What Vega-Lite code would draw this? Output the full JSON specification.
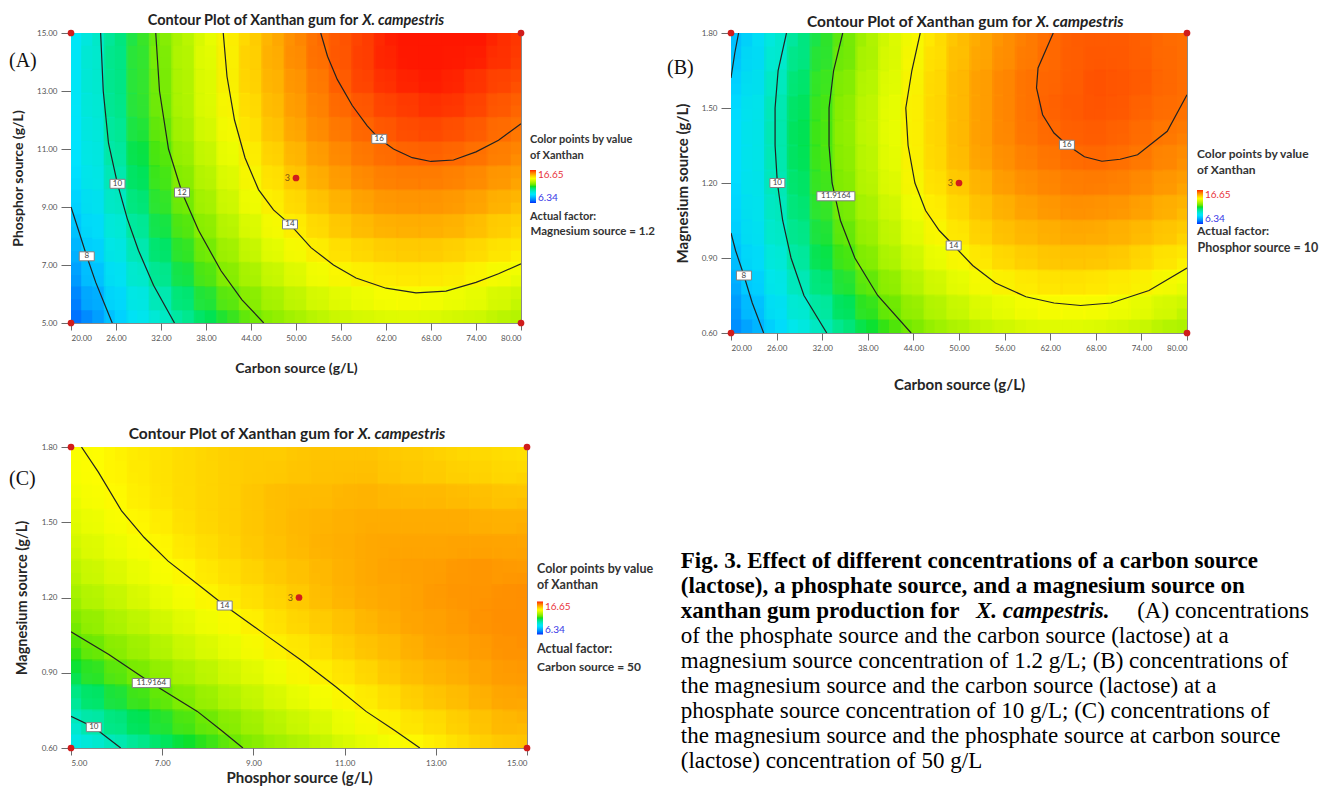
{
"$schema":"https://vega.github.io/schema/vega-lite/v6.json",
"background":"white",
"padding":{"left":8,"top":12,"right":2,"bottom":2},
"columns":2,
"align":"each",
"bounds":"flush",
"spacing":{"row":114,"column":204},
"resolve":{"scale":{"x":"independent","y":"independent","color":"independent","shape":"independent"},"legend":{"color":"independent","shape":"independent"},"axis":{"x":"independent","y":"independent"}},
"config":{
"view":{"stroke":"#8a8a8a","strokeWidth":1},
"axis":{"domain":false,"grid":false,"labelFont":"Lato","labelFontSize":8,"labelColor":"#555","tickColor":"#6a6a6a","tickWidth":1,"titleFont":"Lato","titleFontSize":14,"titleFontWeight":"bold","titleColor":"#262626"},
"axisX":{"tickSize":7,"labelPadding":4},
"axisY":{"tickSize":10,"labelPadding":4},
"legend":{"titleFont":"Lato","titleFontSize":11,"titleFontWeight":"bold","titleColor":"#333","titleLineHeight":16,"labelFont":"Lato","labelFontSize":10,"gradientLength":33,"gradientThickness":6,"titlePadding":9}
},
"datasets":{
"heatA":[
{"x":21.5,"y":5.42,"v":7.1},{"x":24.5,"y":5.42,"v":8.0},{"x":27.5,"y":5.42,"v":8.8},{"x":30.5,"y":5.42,"v":9.5},{"x":33.5,"y":5.42,"v":10.2},{"x":36.5,"y":5.42,"v":10.8},{"x":39.5,"y":5.42,"v":11.3},{"x":42.5,"y":5.42,"v":11.8},{"x":45.5,"y":5.42,"v":12.3},{"x":48.5,"y":5.42,"v":12.6},{"x":51.5,"y":5.42,"v":12.9},{"x":54.5,"y":5.42,"v":13.2},{"x":57.5,"y":5.42,"v":13.4},{"x":60.5,"y":5.42,"v":13.5},{"x":63.5,"y":5.42,"v":13.6},{"x":66.5,"y":5.42,"v":13.6},{"x":69.5,"y":5.42,"v":13.5},{"x":72.5,"y":5.42,"v":13.4},{"x":75.5,"y":5.42,"v":13.3},{"x":78.5,"y":5.42,"v":13.0},
{"x":21.5,"y":6.25,"v":7.5},{"x":24.5,"y":6.25,"v":8.4},{"x":27.5,"y":6.25,"v":9.2},{"x":30.5,"y":6.25,"v":9.9},{"x":33.5,"y":6.25,"v":10.6},{"x":36.5,"y":6.25,"v":11.2},{"x":39.5,"y":6.25,"v":11.8},{"x":42.5,"y":6.25,"v":12.3},{"x":45.5,"y":6.25,"v":12.7},{"x":48.5,"y":6.25,"v":13.1},{"x":51.5,"y":6.25,"v":13.4},{"x":54.5,"y":6.25,"v":13.7},{"x":57.5,"y":6.25,"v":13.8},{"x":60.5,"y":6.25,"v":14.0},{"x":63.5,"y":6.25,"v":14.1},{"x":66.5,"y":6.25,"v":14.1},{"x":69.5,"y":6.25,"v":14.0},{"x":72.5,"y":6.25,"v":13.9},{"x":75.5,"y":6.25,"v":13.8},{"x":78.5,"y":6.25,"v":13.5},
{"x":21.5,"y":7.08,"v":7.9},{"x":24.5,"y":7.08,"v":8.7},{"x":27.5,"y":7.08,"v":9.5},{"x":30.5,"y":7.08,"v":10.3},{"x":33.5,"y":7.08,"v":11.0},{"x":36.5,"y":7.08,"v":11.6},{"x":39.5,"y":7.08,"v":12.2},{"x":42.5,"y":7.08,"v":12.7},{"x":45.5,"y":7.08,"v":13.1},{"x":48.5,"y":7.08,"v":13.5},{"x":51.5,"y":7.08,"v":13.8},{"x":54.5,"y":7.08,"v":14.1},{"x":57.5,"y":7.08,"v":14.3},{"x":60.5,"y":7.08,"v":14.4},{"x":63.5,"y":7.08,"v":14.5},{"x":66.5,"y":7.08,"v":14.5},{"x":69.5,"y":7.08,"v":14.5},{"x":72.5,"y":7.08,"v":14.4},{"x":75.5,"y":7.08,"v":14.2},{"x":78.5,"y":7.08,"v":14.0},
{"x":21.5,"y":7.92,"v":8.2},{"x":24.5,"y":7.92,"v":9.1},{"x":27.5,"y":7.92,"v":9.9},{"x":30.5,"y":7.92,"v":10.6},{"x":33.5,"y":7.92,"v":11.3},{"x":36.5,"y":7.92,"v":11.9},{"x":39.5,"y":7.92,"v":12.5},{"x":42.5,"y":7.92,"v":13.0},{"x":45.5,"y":7.92,"v":13.5},{"x":48.5,"y":7.92,"v":13.9},{"x":51.5,"y":7.92,"v":14.2},{"x":54.5,"y":7.92,"v":14.5},{"x":57.5,"y":7.92,"v":14.7},{"x":60.5,"y":7.92,"v":14.8},{"x":63.5,"y":7.92,"v":14.9},{"x":66.5,"y":7.92,"v":14.9},{"x":69.5,"y":7.92,"v":14.9},{"x":72.5,"y":7.92,"v":14.8},{"x":75.5,"y":7.92,"v":14.7},{"x":78.5,"y":7.92,"v":14.5},
{"x":21.5,"y":8.75,"v":8.5},{"x":24.5,"y":8.75,"v":9.3},{"x":27.5,"y":8.75,"v":10.1},{"x":30.5,"y":8.75,"v":10.9},{"x":33.5,"y":8.75,"v":11.6},{"x":36.5,"y":8.75,"v":12.2},{"x":39.5,"y":8.75,"v":12.8},{"x":42.5,"y":8.75,"v":13.3},{"x":45.5,"y":8.75,"v":13.8},{"x":48.5,"y":8.75,"v":14.2},{"x":51.5,"y":8.75,"v":14.5},{"x":54.5,"y":8.75,"v":14.8},{"x":57.5,"y":8.75,"v":15.0},{"x":60.5,"y":8.75,"v":15.2},{"x":63.5,"y":8.75,"v":15.3},{"x":66.5,"y":8.75,"v":15.3},{"x":69.5,"y":8.75,"v":15.3},{"x":72.5,"y":8.75,"v":15.2},{"x":75.5,"y":8.75,"v":15.0},{"x":78.5,"y":8.75,"v":14.8},
{"x":21.5,"y":9.58,"v":8.7},{"x":24.5,"y":9.58,"v":9.6},{"x":27.5,"y":9.58,"v":10.4},{"x":30.5,"y":9.58,"v":11.2},{"x":33.5,"y":9.58,"v":11.9},{"x":36.5,"y":9.58,"v":12.5},{"x":39.5,"y":9.58,"v":13.1},{"x":42.5,"y":9.58,"v":13.6},{"x":45.5,"y":9.58,"v":14.1},{"x":48.5,"y":9.58,"v":14.5},{"x":51.5,"y":9.58,"v":14.8},{"x":54.5,"y":9.58,"v":15.1},{"x":57.5,"y":9.58,"v":15.3},{"x":60.5,"y":9.58,"v":15.5},{"x":63.5,"y":9.58,"v":15.6},{"x":66.5,"y":9.58,"v":15.6},{"x":69.5,"y":9.58,"v":15.6},{"x":72.5,"y":9.58,"v":15.5},{"x":75.5,"y":9.58,"v":15.4},{"x":78.5,"y":9.58,"v":15.2},
{"x":21.5,"y":10.42,"v":8.9},{"x":24.5,"y":10.42,"v":9.8},{"x":27.5,"y":10.42,"v":10.6},{"x":30.5,"y":10.42,"v":11.4},{"x":33.5,"y":10.42,"v":12.1},{"x":36.5,"y":10.42,"v":12.7},{"x":39.5,"y":10.42,"v":13.3},{"x":42.5,"y":10.42,"v":13.8},{"x":45.5,"y":10.42,"v":14.3},{"x":48.5,"y":10.42,"v":14.7},{"x":51.5,"y":10.42,"v":15.1},{"x":54.5,"y":10.42,"v":15.4},{"x":57.5,"y":10.42,"v":15.6},{"x":60.5,"y":10.42,"v":15.8},{"x":63.5,"y":10.42,"v":15.9},{"x":66.5,"y":10.42,"v":15.9},{"x":69.5,"y":10.42,"v":15.9},{"x":72.5,"y":10.42,"v":15.8},{"x":75.5,"y":10.42,"v":15.7},{"x":78.5,"y":10.42,"v":15.5},
{"x":21.5,"y":11.25,"v":9.0},{"x":24.5,"y":11.25,"v":9.9},{"x":27.5,"y":11.25,"v":10.8},{"x":30.5,"y":11.25,"v":11.5},{"x":33.5,"y":11.25,"v":12.3},{"x":36.5,"y":11.25,"v":12.9},{"x":39.5,"y":11.25,"v":13.5},{"x":42.5,"y":11.25,"v":14.0},{"x":45.5,"y":11.25,"v":14.5},{"x":48.5,"y":11.25,"v":14.9},{"x":51.5,"y":11.25,"v":15.3},{"x":54.5,"y":11.25,"v":15.6},{"x":57.5,"y":11.25,"v":15.8},{"x":60.5,"y":11.25,"v":16.0},{"x":63.5,"y":11.25,"v":16.1},{"x":66.5,"y":11.25,"v":16.2},{"x":69.5,"y":11.25,"v":16.2},{"x":72.5,"y":11.25,"v":16.1},{"x":75.5,"y":11.25,"v":16.0},{"x":78.5,"y":11.25,"v":15.8},
{"x":21.5,"y":12.08,"v":9.1},{"x":24.5,"y":12.08,"v":10.0},{"x":27.5,"y":12.08,"v":10.9},{"x":30.5,"y":12.08,"v":11.7},{"x":33.5,"y":12.08,"v":12.4},{"x":36.5,"y":12.08,"v":13.1},{"x":39.5,"y":12.08,"v":13.7},{"x":42.5,"y":12.08,"v":14.2},{"x":45.5,"y":12.08,"v":14.7},{"x":48.5,"y":12.08,"v":15.1},{"x":51.5,"y":12.08,"v":15.5},{"x":54.5,"y":12.08,"v":15.8},{"x":57.5,"y":12.08,"v":16.0},{"x":60.5,"y":12.08,"v":16.2},{"x":63.5,"y":12.08,"v":16.3},{"x":66.5,"y":12.08,"v":16.4},{"x":69.5,"y":12.08,"v":16.4},{"x":72.5,"y":12.08,"v":16.3},{"x":75.5,"y":12.08,"v":16.2},{"x":78.5,"y":12.08,"v":16.0},
{"x":21.5,"y":12.92,"v":9.2},{"x":24.5,"y":12.92,"v":10.1},{"x":27.5,"y":12.92,"v":11.0},{"x":30.5,"y":12.92,"v":11.8},{"x":33.5,"y":12.92,"v":12.5},{"x":36.5,"y":12.92,"v":13.2},{"x":39.5,"y":12.92,"v":13.8},{"x":42.5,"y":12.92,"v":14.3},{"x":45.5,"y":12.92,"v":14.8},{"x":48.5,"y":12.92,"v":15.2},{"x":51.5,"y":12.92,"v":15.6},{"x":54.5,"y":12.92,"v":15.9},{"x":57.5,"y":12.92,"v":16.2},{"x":60.5,"y":12.92,"v":16.3},{"x":63.5,"y":12.92,"v":16.5},{"x":66.5,"y":12.92,"v":16.5},{"x":69.5,"y":12.92,"v":16.6},{"x":72.5,"y":12.92,"v":16.5},{"x":75.5,"y":12.92,"v":16.4},{"x":78.5,"y":12.92,"v":16.2},
{"x":21.5,"y":13.75,"v":9.2},{"x":24.5,"y":13.75,"v":10.2},{"x":27.5,"y":13.75,"v":11.0},{"x":30.5,"y":13.75,"v":11.8},{"x":33.5,"y":13.75,"v":12.5},{"x":36.5,"y":13.75,"v":13.2},{"x":39.5,"y":13.75,"v":13.8},{"x":42.5,"y":13.75,"v":14.4},{"x":45.5,"y":13.75,"v":14.9},{"x":48.5,"y":13.75,"v":15.3},{"x":51.5,"y":13.75,"v":15.7},{"x":54.5,"y":13.75,"v":16.0},{"x":57.5,"y":13.75,"v":16.3},{"x":60.5,"y":13.75,"v":16.5},{"x":63.5,"y":13.75,"v":16.6},{"x":66.5,"y":13.75,"v":16.7},{"x":69.5,"y":13.75,"v":16.7},{"x":72.5,"y":13.75,"v":16.6},{"x":75.5,"y":13.75,"v":16.5},{"x":78.5,"y":13.75,"v":16.4},
{"x":21.5,"y":14.58,"v":9.2},{"x":24.5,"y":14.58,"v":10.2},{"x":27.5,"y":14.58,"v":11.0},{"x":30.5,"y":14.58,"v":11.8},{"x":33.5,"y":14.58,"v":12.6},{"x":36.5,"y":14.58,"v":13.2},{"x":39.5,"y":14.58,"v":13.9},{"x":42.5,"y":14.58,"v":14.4},{"x":45.5,"y":14.58,"v":14.9},{"x":48.5,"y":14.58,"v":15.4},{"x":51.5,"y":14.58,"v":15.8},{"x":54.5,"y":14.58,"v":16.1},{"x":57.5,"y":14.58,"v":16.3},{"x":60.5,"y":14.58,"v":16.5},{"x":63.5,"y":14.58,"v":16.7},{"x":66.5,"y":14.58,"v":16.8},{"x":69.5,"y":14.58,"v":16.8},{"x":72.5,"y":14.58,"v":16.7},{"x":75.5,"y":14.58,"v":16.7},{"x":78.5,"y":14.58,"v":16.5}
],
"heatB":[
{"x":21.5,"y":0.65,"v":7.5},{"x":24.5,"y":0.65,"v":8.3},{"x":27.5,"y":0.65,"v":9.1},{"x":30.5,"y":0.65,"v":9.8},{"x":33.5,"y":0.65,"v":10.4},{"x":36.5,"y":0.65,"v":11.0},{"x":39.5,"y":0.65,"v":11.5},{"x":42.5,"y":0.65,"v":12.0},{"x":45.5,"y":0.65,"v":12.4},{"x":48.5,"y":0.65,"v":12.8},{"x":51.5,"y":0.65,"v":13.0},{"x":54.5,"y":0.65,"v":13.3},{"x":57.5,"y":0.65,"v":13.4},{"x":60.5,"y":0.65,"v":13.6},{"x":63.5,"y":0.65,"v":13.6},{"x":66.5,"y":0.65,"v":13.6},{"x":69.5,"y":0.65,"v":13.5},{"x":72.5,"y":0.65,"v":13.4},{"x":75.5,"y":0.65,"v":13.2},{"x":78.5,"y":0.65,"v":12.9},
{"x":21.5,"y":0.75,"v":7.8},{"x":24.5,"y":0.75,"v":8.7},{"x":27.5,"y":0.75,"v":9.5},{"x":30.5,"y":0.75,"v":10.2},{"x":33.5,"y":0.75,"v":10.8},{"x":36.5,"y":0.75,"v":11.4},{"x":39.5,"y":0.75,"v":12.0},{"x":42.5,"y":0.75,"v":12.4},{"x":45.5,"y":0.75,"v":12.9},{"x":48.5,"y":0.75,"v":13.2},{"x":51.5,"y":0.75,"v":13.5},{"x":54.5,"y":0.75,"v":13.8},{"x":57.5,"y":0.75,"v":13.9},{"x":60.5,"y":0.75,"v":14.1},{"x":63.5,"y":0.75,"v":14.1},{"x":66.5,"y":0.75,"v":14.1},{"x":69.5,"y":0.75,"v":14.1},{"x":72.5,"y":0.75,"v":13.9},{"x":75.5,"y":0.75,"v":13.8},{"x":78.5,"y":0.75,"v":13.5},
{"x":21.5,"y":0.85,"v":8.1},{"x":24.5,"y":0.85,"v":9.0},{"x":27.5,"y":0.85,"v":9.8},{"x":30.5,"y":0.85,"v":10.5},{"x":33.5,"y":0.85,"v":11.2},{"x":36.5,"y":0.85,"v":11.8},{"x":39.5,"y":0.85,"v":12.3},{"x":42.5,"y":0.85,"v":12.8},{"x":45.5,"y":0.85,"v":13.3},{"x":48.5,"y":0.85,"v":13.6},{"x":51.5,"y":0.85,"v":13.9},{"x":54.5,"y":0.85,"v":14.2},{"x":57.5,"y":0.85,"v":14.4},{"x":60.5,"y":0.85,"v":14.5},{"x":63.5,"y":0.85,"v":14.6},{"x":66.5,"y":0.85,"v":14.6},{"x":69.5,"y":0.85,"v":14.5},{"x":72.5,"y":0.85,"v":14.4},{"x":75.5,"y":0.85,"v":14.3},{"x":78.5,"y":0.85,"v":14.0},
{"x":21.5,"y":0.95,"v":8.4},{"x":24.5,"y":0.95,"v":9.3},{"x":27.5,"y":0.95,"v":10.1},{"x":30.5,"y":0.95,"v":10.8},{"x":33.5,"y":0.95,"v":11.5},{"x":36.5,"y":0.95,"v":12.1},{"x":39.5,"y":0.95,"v":12.7},{"x":42.5,"y":0.95,"v":13.2},{"x":45.5,"y":0.95,"v":13.6},{"x":48.5,"y":0.95,"v":14.0},{"x":51.5,"y":0.95,"v":14.3},{"x":54.5,"y":0.95,"v":14.6},{"x":57.5,"y":0.95,"v":14.8},{"x":60.5,"y":0.95,"v":14.9},{"x":63.5,"y":0.95,"v":15.0},{"x":66.5,"y":0.95,"v":15.0},{"x":69.5,"y":0.95,"v":15.0},{"x":72.5,"y":0.95,"v":14.9},{"x":75.5,"y":0.95,"v":14.7},{"x":78.5,"y":0.95,"v":14.5},
{"x":21.5,"y":1.05,"v":8.6},{"x":24.5,"y":1.05,"v":9.5},{"x":27.5,"y":1.05,"v":10.3},{"x":30.5,"y":1.05,"v":11.0},{"x":33.5,"y":1.05,"v":11.7},{"x":36.5,"y":1.05,"v":12.4},{"x":39.5,"y":1.05,"v":12.9},{"x":42.5,"y":1.05,"v":13.4},{"x":45.5,"y":1.05,"v":13.9},{"x":48.5,"y":1.05,"v":14.3},{"x":51.5,"y":1.05,"v":14.6},{"x":54.5,"y":1.05,"v":14.9},{"x":57.5,"y":1.05,"v":15.1},{"x":60.5,"y":1.05,"v":15.2},{"x":63.5,"y":1.05,"v":15.3},{"x":66.5,"y":1.05,"v":15.4},{"x":69.5,"y":1.05,"v":15.3},{"x":72.5,"y":1.05,"v":15.2},{"x":75.5,"y":1.05,"v":15.1},{"x":78.5,"y":1.05,"v":14.9},
{"x":21.5,"y":1.15,"v":8.7},{"x":24.5,"y":1.15,"v":9.6},{"x":27.5,"y":1.15,"v":10.4},{"x":30.5,"y":1.15,"v":11.2},{"x":33.5,"y":1.15,"v":11.9},{"x":36.5,"y":1.15,"v":12.5},{"x":39.5,"y":1.15,"v":13.1},{"x":42.5,"y":1.15,"v":13.6},{"x":45.5,"y":1.15,"v":14.1},{"x":48.5,"y":1.15,"v":14.5},{"x":51.5,"y":1.15,"v":14.8},{"x":54.5,"y":1.15,"v":15.1},{"x":57.5,"y":1.15,"v":15.3},{"x":60.5,"y":1.15,"v":15.5},{"x":63.5,"y":1.15,"v":15.6},{"x":66.5,"y":1.15,"v":15.7},{"x":69.5,"y":1.15,"v":15.6},{"x":72.5,"y":1.15,"v":15.6},{"x":75.5,"y":1.15,"v":15.4},{"x":78.5,"y":1.15,"v":15.2},
{"x":21.5,"y":1.25,"v":8.8},{"x":24.5,"y":1.25,"v":9.7},{"x":27.5,"y":1.25,"v":10.5},{"x":30.5,"y":1.25,"v":11.3},{"x":33.5,"y":1.25,"v":12.0},{"x":36.5,"y":1.25,"v":12.7},{"x":39.5,"y":1.25,"v":13.3},{"x":42.5,"y":1.25,"v":13.8},{"x":45.5,"y":1.25,"v":14.3},{"x":48.5,"y":1.25,"v":14.7},{"x":51.5,"y":1.25,"v":15.0},{"x":54.5,"y":1.25,"v":15.3},{"x":57.5,"y":1.25,"v":15.6},{"x":60.5,"y":1.25,"v":15.7},{"x":63.5,"y":1.25,"v":15.8},{"x":66.5,"y":1.25,"v":15.9},{"x":69.5,"y":1.25,"v":15.9},{"x":72.5,"y":1.25,"v":15.8},{"x":75.5,"y":1.25,"v":15.7},{"x":78.5,"y":1.25,"v":15.5},
{"x":21.5,"y":1.35,"v":8.8},{"x":24.5,"y":1.35,"v":9.7},{"x":27.5,"y":1.35,"v":10.6},{"x":30.5,"y":1.35,"v":11.4},{"x":33.5,"y":1.35,"v":12.1},{"x":36.5,"y":1.35,"v":12.7},{"x":39.5,"y":1.35,"v":13.3},{"x":42.5,"y":1.35,"v":13.9},{"x":45.5,"y":1.35,"v":14.4},{"x":48.5,"y":1.35,"v":14.8},{"x":51.5,"y":1.35,"v":15.2},{"x":54.5,"y":1.35,"v":15.5},{"x":57.5,"y":1.35,"v":15.7},{"x":60.5,"y":1.35,"v":15.9},{"x":63.5,"y":1.35,"v":16.0},{"x":66.5,"y":1.35,"v":16.1},{"x":69.5,"y":1.35,"v":16.1},{"x":72.5,"y":1.35,"v":16.0},{"x":75.5,"y":1.35,"v":15.9},{"x":78.5,"y":1.35,"v":15.7},
{"x":21.5,"y":1.45,"v":8.8},{"x":24.5,"y":1.45,"v":9.7},{"x":27.5,"y":1.45,"v":10.6},{"x":30.5,"y":1.45,"v":11.4},{"x":33.5,"y":1.45,"v":12.1},{"x":36.5,"y":1.45,"v":12.8},{"x":39.5,"y":1.45,"v":13.4},{"x":42.5,"y":1.45,"v":13.9},{"x":45.5,"y":1.45,"v":14.4},{"x":48.5,"y":1.45,"v":14.8},{"x":51.5,"y":1.45,"v":15.2},{"x":54.5,"y":1.45,"v":15.5},{"x":57.5,"y":1.45,"v":15.8},{"x":60.5,"y":1.45,"v":16.0},{"x":63.5,"y":1.45,"v":16.1},{"x":66.5,"y":1.45,"v":16.2},{"x":69.5,"y":1.45,"v":16.2},{"x":72.5,"y":1.45,"v":16.1},{"x":75.5,"y":1.45,"v":16.0},{"x":78.5,"y":1.45,"v":15.9},
{"x":21.5,"y":1.55,"v":8.7},{"x":24.5,"y":1.55,"v":9.6},{"x":27.5,"y":1.55,"v":10.5},{"x":30.5,"y":1.55,"v":11.3},{"x":33.5,"y":1.55,"v":12.0},{"x":36.5,"y":1.55,"v":12.7},{"x":39.5,"y":1.55,"v":13.3},{"x":42.5,"y":1.55,"v":13.9},{"x":45.5,"y":1.55,"v":14.4},{"x":48.5,"y":1.55,"v":14.8},{"x":51.5,"y":1.55,"v":15.2},{"x":54.5,"y":1.55,"v":15.5},{"x":57.5,"y":1.55,"v":15.8},{"x":60.5,"y":1.55,"v":16.0},{"x":63.5,"y":1.55,"v":16.2},{"x":66.5,"y":1.55,"v":16.2},{"x":69.5,"y":1.55,"v":16.3},{"x":72.5,"y":1.55,"v":16.2},{"x":75.5,"y":1.55,"v":16.1},{"x":78.5,"y":1.55,"v":16.0},
{"x":21.5,"y":1.65,"v":8.5},{"x":24.5,"y":1.65,"v":9.5},{"x":27.5,"y":1.65,"v":10.3},{"x":30.5,"y":1.65,"v":11.2},{"x":33.5,"y":1.65,"v":11.9},{"x":36.5,"y":1.65,"v":12.6},{"x":39.5,"y":1.65,"v":13.2},{"x":42.5,"y":1.65,"v":13.8},{"x":45.5,"y":1.65,"v":14.3},{"x":48.5,"y":1.65,"v":14.8},{"x":51.5,"y":1.65,"v":15.2},{"x":54.5,"y":1.65,"v":15.5},{"x":57.5,"y":1.65,"v":15.8},{"x":60.5,"y":1.65,"v":16.0},{"x":63.5,"y":1.65,"v":16.1},{"x":66.5,"y":1.65,"v":16.2},{"x":69.5,"y":1.65,"v":16.3},{"x":72.5,"y":1.65,"v":16.2},{"x":75.5,"y":1.65,"v":16.2},{"x":78.5,"y":1.65,"v":16.0},
{"x":21.5,"y":1.75,"v":8.3},{"x":24.5,"y":1.75,"v":9.3},{"x":27.5,"y":1.75,"v":10.1},{"x":30.5,"y":1.75,"v":11.0},{"x":33.5,"y":1.75,"v":11.7},{"x":36.5,"y":1.75,"v":12.4},{"x":39.5,"y":1.75,"v":13.1},{"x":42.5,"y":1.75,"v":13.7},{"x":45.5,"y":1.75,"v":14.2},{"x":48.5,"y":1.75,"v":14.7},{"x":51.5,"y":1.75,"v":15.1},{"x":54.5,"y":1.75,"v":15.4},{"x":57.5,"y":1.75,"v":15.7},{"x":60.5,"y":1.75,"v":15.9},{"x":63.5,"y":1.75,"v":16.1},{"x":66.5,"y":1.75,"v":16.2},{"x":69.5,"y":1.75,"v":16.2},{"x":72.5,"y":1.75,"v":16.2},{"x":75.5,"y":1.75,"v":16.1},{"x":78.5,"y":1.75,"v":16.0}
],
"heatC":[
{"x":5.25,"y":0.65,"v":9.6},{"x":5.75,"y":0.65,"v":10.0},{"x":6.25,"y":0.65,"v":10.4},{"x":6.75,"y":0.65,"v":10.8},{"x":7.25,"y":0.65,"v":11.2},{"x":7.75,"y":0.65,"v":11.5},{"x":8.25,"y":0.65,"v":11.8},{"x":8.75,"y":0.65,"v":12.2},{"x":9.25,"y":0.65,"v":12.5},{"x":9.75,"y":0.65,"v":12.8},{"x":10.25,"y":0.65,"v":13.0},{"x":10.75,"y":0.65,"v":13.3},{"x":11.25,"y":0.65,"v":13.6},{"x":11.75,"y":0.65,"v":13.8},{"x":12.25,"y":0.65,"v":14.0},{"x":12.75,"y":0.65,"v":14.2},{"x":13.25,"y":0.65,"v":14.4},{"x":13.75,"y":0.65,"v":14.6},{"x":14.25,"y":0.65,"v":14.8},{"x":14.75,"y":0.65,"v":14.9},
{"x":5.25,"y":0.75,"v":10.3},{"x":5.75,"y":0.75,"v":10.7},{"x":6.25,"y":0.75,"v":11.1},{"x":6.75,"y":0.75,"v":11.4},{"x":7.25,"y":0.75,"v":11.8},{"x":7.75,"y":0.75,"v":12.1},{"x":8.25,"y":0.75,"v":12.4},{"x":8.75,"y":0.75,"v":12.7},{"x":9.25,"y":0.75,"v":13.0},{"x":9.75,"y":0.75,"v":13.3},{"x":10.25,"y":0.75,"v":13.5},{"x":10.75,"y":0.75,"v":13.7},{"x":11.25,"y":0.75,"v":14.0},{"x":11.75,"y":0.75,"v":14.2},{"x":12.25,"y":0.75,"v":14.4},{"x":12.75,"y":0.75,"v":14.6},{"x":13.25,"y":0.75,"v":14.7},{"x":13.75,"y":0.75,"v":14.9},{"x":14.25,"y":0.75,"v":15.0},{"x":14.75,"y":0.75,"v":15.2},
{"x":5.25,"y":0.85,"v":10.9},{"x":5.75,"y":0.85,"v":11.3},{"x":6.25,"y":0.85,"v":11.7},{"x":6.75,"y":0.85,"v":12.0},{"x":7.25,"y":0.85,"v":12.3},{"x":7.75,"y":0.85,"v":12.6},{"x":8.25,"y":0.85,"v":12.9},{"x":8.75,"y":0.85,"v":13.2},{"x":9.25,"y":0.85,"v":13.4},{"x":9.75,"y":0.85,"v":13.7},{"x":10.25,"y":0.85,"v":13.9},{"x":10.75,"y":0.85,"v":14.1},{"x":11.25,"y":0.85,"v":14.3},{"x":11.75,"y":0.85,"v":14.5},{"x":12.25,"y":0.85,"v":14.7},{"x":12.75,"y":0.85,"v":14.9},{"x":13.25,"y":0.85,"v":15.0},{"x":13.75,"y":0.85,"v":15.1},{"x":14.25,"y":0.85,"v":15.3},{"x":14.75,"y":0.85,"v":15.4},
{"x":5.25,"y":0.95,"v":11.5},{"x":5.75,"y":0.95,"v":11.9},{"x":6.25,"y":0.95,"v":12.2},{"x":6.75,"y":0.95,"v":12.5},{"x":7.25,"y":0.95,"v":12.8},{"x":7.75,"y":0.95,"v":13.1},{"x":8.25,"y":0.95,"v":13.3},{"x":8.75,"y":0.95,"v":13.6},{"x":9.25,"y":0.95,"v":13.8},{"x":9.75,"y":0.95,"v":14.0},{"x":10.25,"y":0.95,"v":14.3},{"x":10.75,"y":0.95,"v":14.4},{"x":11.25,"y":0.95,"v":14.6},{"x":11.75,"y":0.95,"v":14.8},{"x":12.25,"y":0.95,"v":15.0},{"x":12.75,"y":0.95,"v":15.1},{"x":13.25,"y":0.95,"v":15.2},{"x":13.75,"y":0.95,"v":15.3},{"x":14.25,"y":0.95,"v":15.4},{"x":14.75,"y":0.95,"v":15.5},
{"x":5.25,"y":1.05,"v":12.0},{"x":5.75,"y":1.05,"v":12.4},{"x":6.25,"y":1.05,"v":12.7},{"x":6.75,"y":1.05,"v":12.9},{"x":7.25,"y":1.05,"v":13.2},{"x":7.75,"y":1.05,"v":13.5},{"x":8.25,"y":1.05,"v":13.7},{"x":8.75,"y":1.05,"v":13.9},{"x":9.25,"y":1.05,"v":14.2},{"x":9.75,"y":1.05,"v":14.4},{"x":10.25,"y":1.05,"v":14.5},{"x":10.75,"y":1.05,"v":14.7},{"x":11.25,"y":1.05,"v":14.9},{"x":11.75,"y":1.05,"v":15.0},{"x":12.25,"y":1.05,"v":15.1},{"x":12.75,"y":1.05,"v":15.3},{"x":13.25,"y":1.05,"v":15.4},{"x":13.75,"y":1.05,"v":15.4},{"x":14.25,"y":1.05,"v":15.5},{"x":14.75,"y":1.05,"v":15.6},
{"x":5.25,"y":1.15,"v":12.5},{"x":5.75,"y":1.15,"v":12.8},{"x":6.25,"y":1.15,"v":13.1},{"x":6.75,"y":1.15,"v":13.3},{"x":7.25,"y":1.15,"v":13.6},{"x":7.75,"y":1.15,"v":13.8},{"x":8.25,"y":1.15,"v":14.0},{"x":8.75,"y":1.15,"v":14.2},{"x":9.25,"y":1.15,"v":14.4},{"x":9.75,"y":1.15,"v":14.6},{"x":10.25,"y":1.15,"v":14.8},{"x":10.75,"y":1.15,"v":14.9},{"x":11.25,"y":1.15,"v":15.0},{"x":11.75,"y":1.15,"v":15.2},{"x":12.25,"y":1.15,"v":15.3},{"x":12.75,"y":1.15,"v":15.4},{"x":13.25,"y":1.15,"v":15.4},{"x":13.75,"y":1.15,"v":15.5},{"x":14.25,"y":1.15,"v":15.6},{"x":14.75,"y":1.15,"v":15.6},
{"x":5.25,"y":1.25,"v":12.9},{"x":5.75,"y":1.25,"v":13.2},{"x":6.25,"y":1.25,"v":13.4},{"x":6.75,"y":1.25,"v":13.7},{"x":7.25,"y":1.25,"v":13.9},{"x":7.75,"y":1.25,"v":14.1},{"x":8.25,"y":1.25,"v":14.3},{"x":8.75,"y":1.25,"v":14.5},{"x":9.25,"y":1.25,"v":14.6},{"x":9.75,"y":1.25,"v":14.8},{"x":10.25,"y":1.25,"v":14.9},{"x":10.75,"y":1.25,"v":15.1},{"x":11.25,"y":1.25,"v":15.2},{"x":11.75,"y":1.25,"v":15.3},{"x":12.25,"y":1.25,"v":15.3},{"x":12.75,"y":1.25,"v":15.4},{"x":13.25,"y":1.25,"v":15.5},{"x":13.75,"y":1.25,"v":15.5},{"x":14.25,"y":1.25,"v":15.5},{"x":14.75,"y":1.25,"v":15.6},
{"x":5.25,"y":1.35,"v":13.2},{"x":5.75,"y":1.35,"v":13.5},{"x":6.25,"y":1.35,"v":13.7},{"x":6.75,"y":1.35,"v":13.9},{"x":7.25,"y":1.35,"v":14.1},{"x":7.75,"y":1.35,"v":14.3},{"x":8.25,"y":1.35,"v":14.5},{"x":8.75,"y":1.35,"v":14.6},{"x":9.25,"y":1.35,"v":14.8},{"x":9.75,"y":1.35,"v":14.9},{"x":10.25,"y":1.35,"v":15.0},{"x":10.75,"y":1.35,"v":15.1},{"x":11.25,"y":1.35,"v":15.2},{"x":11.75,"y":1.35,"v":15.3},{"x":12.25,"y":1.35,"v":15.4},{"x":12.75,"y":1.35,"v":15.4},{"x":13.25,"y":1.35,"v":15.4},{"x":13.75,"y":1.35,"v":15.5},{"x":14.25,"y":1.35,"v":15.5},{"x":14.75,"y":1.35,"v":15.4},
{"x":5.25,"y":1.45,"v":13.5},{"x":5.75,"y":1.45,"v":13.7},{"x":6.25,"y":1.45,"v":13.9},{"x":6.75,"y":1.45,"v":14.1},{"x":7.25,"y":1.45,"v":14.3},{"x":7.75,"y":1.45,"v":14.5},{"x":8.25,"y":1.45,"v":14.6},{"x":8.75,"y":1.45,"v":14.8},{"x":9.25,"y":1.45,"v":14.9},{"x":9.75,"y":1.45,"v":15.0},{"x":10.25,"y":1.45,"v":15.1},{"x":10.75,"y":1.45,"v":15.2},{"x":11.25,"y":1.45,"v":15.2},{"x":11.75,"y":1.45,"v":15.3},{"x":12.25,"y":1.45,"v":15.3},{"x":12.75,"y":1.45,"v":15.3},{"x":13.25,"y":1.45,"v":15.3},{"x":13.75,"y":1.45,"v":15.3},{"x":14.25,"y":1.45,"v":15.3},{"x":14.75,"y":1.45,"v":15.3},
{"x":5.25,"y":1.55,"v":13.7},{"x":5.75,"y":1.55,"v":13.9},{"x":6.25,"y":1.55,"v":14.1},{"x":6.75,"y":1.55,"v":14.3},{"x":7.25,"y":1.55,"v":14.4},{"x":7.75,"y":1.55,"v":14.6},{"x":8.25,"y":1.55,"v":14.7},{"x":8.75,"y":1.55,"v":14.8},{"x":9.25,"y":1.55,"v":14.9},{"x":9.75,"y":1.55,"v":15.0},{"x":10.25,"y":1.55,"v":15.1},{"x":10.75,"y":1.55,"v":15.1},{"x":11.25,"y":1.55,"v":15.2},{"x":11.75,"y":1.55,"v":15.2},{"x":12.25,"y":1.55,"v":15.2},{"x":12.75,"y":1.55,"v":15.2},{"x":13.25,"y":1.55,"v":15.2},{"x":13.75,"y":1.55,"v":15.2},{"x":14.25,"y":1.55,"v":15.1},{"x":14.75,"y":1.55,"v":15.1},
{"x":5.25,"y":1.65,"v":13.9},{"x":5.75,"y":1.65,"v":14.1},{"x":6.25,"y":1.65,"v":14.2},{"x":6.75,"y":1.65,"v":14.4},{"x":7.25,"y":1.65,"v":14.5},{"x":7.75,"y":1.65,"v":14.6},{"x":8.25,"y":1.65,"v":14.7},{"x":8.75,"y":1.65,"v":14.8},{"x":9.25,"y":1.65,"v":14.9},{"x":9.75,"y":1.65,"v":15.0},{"x":10.25,"y":1.65,"v":15.0},{"x":10.75,"y":1.65,"v":15.0},{"x":11.25,"y":1.65,"v":15.1},{"x":11.75,"y":1.65,"v":15.1},{"x":12.25,"y":1.65,"v":15.0},{"x":12.75,"y":1.65,"v":15.0},{"x":13.25,"y":1.65,"v":15.0},{"x":13.75,"y":1.65,"v":14.9},{"x":14.25,"y":1.65,"v":14.9},{"x":14.75,"y":1.65,"v":14.8},
{"x":5.25,"y":1.75,"v":14.0},{"x":5.75,"y":1.75,"v":14.1},{"x":6.25,"y":1.75,"v":14.3},{"x":6.75,"y":1.75,"v":14.4},{"x":7.25,"y":1.75,"v":14.5},{"x":7.75,"y":1.75,"v":14.6},{"x":8.25,"y":1.75,"v":14.7},{"x":8.75,"y":1.75,"v":14.8},{"x":9.25,"y":1.75,"v":14.8},{"x":9.75,"y":1.75,"v":14.8},{"x":10.25,"y":1.75,"v":14.9},{"x":10.75,"y":1.75,"v":14.9},{"x":11.25,"y":1.75,"v":14.9},{"x":11.75,"y":1.75,"v":14.9},{"x":12.25,"y":1.75,"v":14.8},{"x":12.75,"y":1.75,"v":14.8},{"x":13.25,"y":1.75,"v":14.7},{"x":13.75,"y":1.75,"v":14.6},{"x":14.25,"y":1.75,"v":14.6},{"x":14.75,"y":1.75,"v":14.5}
],
"contA":[
{"k":"8","i":0,"x":20,"y":9.0},{"k":"8","i":1,"x":21.0,"y":8.2},{"k":"8","i":2,"x":22.1,"y":7.3},{"k":"8","i":3,"x":23.3,"y":6.4},{"k":"8","i":4,"x":24.4,"y":5.7},{"k":"8","i":5,"x":25.5,"y":5.0},
{"k":"10","i":0,"x":23.95,"y":15},{"k":"10","i":1,"x":24.3,"y":13},{"k":"10","i":2,"x":25.0,"y":11.2},{"k":"10","i":3,"x":26.2,"y":9.8},{"k":"10","i":4,"x":27.5,"y":8.6},{"k":"10","i":5,"x":29.0,"y":7.5},{"k":"10","i":6,"x":31.0,"y":6.3},{"k":"10","i":7,"x":33.8,"y":5.0},
{"k":"12","i":0,"x":31.3,"y":15},{"k":"12","i":1,"x":31.8,"y":13},{"k":"12","i":2,"x":33.0,"y":11},{"k":"12","i":3,"x":34.8,"y":9.5},{"k":"12","i":4,"x":37.0,"y":8.2},{"k":"12","i":5,"x":40.0,"y":6.8},{"k":"12","i":6,"x":42.8,"y":5.8},{"k":"12","i":7,"x":45.7,"y":5.0},
{"k":"14","i":0,"x":40.3,"y":15},{"k":"14","i":1,"x":40.8,"y":13.5},{"k":"14","i":2,"x":41.8,"y":12},{"k":"14","i":3,"x":43.2,"y":10.7},{"k":"14","i":4,"x":45.0,"y":9.6},{"k":"14","i":5,"x":47.0,"y":8.9},{"k":"14","i":6,"x":49.2,"y":8.4},{"k":"14","i":7,"x":52,"y":7.6},{"k":"14","i":8,"x":55,"y":7.0},{"k":"14","i":9,"x":58,"y":6.55},{"k":"14","i":10,"x":62,"y":6.2},{"k":"14","i":11,"x":66,"y":6.04},{"k":"14","i":12,"x":70,"y":6.1},{"k":"14","i":13,"x":74,"y":6.4},{"k":"14","i":14,"x":77,"y":6.7},{"k":"14","i":15,"x":80,"y":7.04},
{"k":"16","i":0,"x":53.3,"y":15},{"k":"16","i":1,"x":54.2,"y":14.2},{"k":"16","i":2,"x":55.5,"y":13.4},{"k":"16","i":3,"x":57.5,"y":12.5},{"k":"16","i":4,"x":59.5,"y":11.8},{"k":"16","i":5,"x":61.1,"y":11.35},{"k":"16","i":6,"x":63,"y":11.0},{"k":"16","i":7,"x":65.5,"y":10.7},{"k":"16","i":8,"x":68,"y":10.57},{"k":"16","i":9,"x":71,"y":10.62},{"k":"16","i":10,"x":74,"y":10.9},{"k":"16","i":11,"x":77,"y":11.3},{"k":"16","i":12,"x":80,"y":11.87}
],
"contB":[
{"k":"8a","i":0,"x":21.0,"y":1.8},{"k":"8a","i":1,"x":20.5,"y":1.72},{"k":"8a","i":2,"x":20,"y":1.62},
{"k":"8b","i":0,"x":20,"y":1.0},{"k":"8b","i":1,"x":20.6,"y":0.93},{"k":"8b","i":2,"x":21.7,"y":0.83},{"k":"8b","i":3,"x":22.8,"y":0.72},{"k":"8b","i":4,"x":24.3,"y":0.6},
{"k":"10","i":0,"x":27.3,"y":1.8},{"k":"10","i":1,"x":26.2,"y":1.65},{"k":"10","i":2,"x":25.8,"y":1.5},{"k":"10","i":3,"x":25.8,"y":1.35},{"k":"10","i":4,"x":26.1,"y":1.2},{"k":"10","i":5,"x":26.8,"y":1.05},{"k":"10","i":6,"x":27.9,"y":0.9},{"k":"10","i":7,"x":29.6,"y":0.75},{"k":"10","i":8,"x":32.6,"y":0.6},
{"k":"11.9164","i":0,"x":34.7,"y":1.8},{"k":"11.9164","i":1,"x":33.5,"y":1.65},{"k":"11.9164","i":2,"x":32.9,"y":1.5},{"k":"11.9164","i":3,"x":32.9,"y":1.35},{"k":"11.9164","i":4,"x":33.3,"y":1.2},{"k":"11.9164","i":5,"x":34.4,"y":1.05},{"k":"11.9164","i":6,"x":36.3,"y":0.9},{"k":"11.9164","i":7,"x":39.3,"y":0.75},{"k":"11.9164","i":8,"x":43.7,"y":0.6},
{"k":"14","i":0,"x":44.9,"y":1.8},{"k":"14","i":1,"x":43.8,"y":1.65},{"k":"14","i":2,"x":43.0,"y":1.5},{"k":"14","i":3,"x":43.3,"y":1.35},{"k":"14","i":4,"x":44.2,"y":1.2},{"k":"14","i":5,"x":45.6,"y":1.09},{"k":"14","i":6,"x":47.4,"y":1.01},{"k":"14","i":7,"x":49.3,"y":0.95},{"k":"14","i":8,"x":51.8,"y":0.87},{"k":"14","i":9,"x":54.8,"y":0.8},{"k":"14","i":10,"x":58.8,"y":0.745},{"k":"14","i":11,"x":62.5,"y":0.72},{"k":"14","i":12,"x":66,"y":0.71},{"k":"14","i":13,"x":70,"y":0.72},{"k":"14","i":14,"x":75,"y":0.77},{"k":"14","i":15,"x":80,"y":0.86},
{"k":"16","i":0,"x":62.4,"y":1.8},{"k":"16","i":1,"x":60.4,"y":1.66},{"k":"16","i":2,"x":60.2,"y":1.58},{"k":"16","i":3,"x":61.0,"y":1.473},{"k":"16","i":4,"x":62.5,"y":1.4},{"k":"16","i":5,"x":64.2,"y":1.353},{"k":"16","i":6,"x":66.5,"y":1.305},{"k":"16","i":7,"x":68.8,"y":1.287},{"k":"16","i":8,"x":71.2,"y":1.295},{"k":"16","i":9,"x":73.5,"y":1.313},{"k":"16","i":10,"x":77.4,"y":1.407},{"k":"16","i":11,"x":80,"y":1.553}
],
"contC":[
{"k":"10","i":0,"x":5,"y":0.726},{"k":"10","i":1,"x":5.5,"y":0.683},{"k":"10","i":2,"x":6.09,"y":0.6},
{"k":"11.9164","i":0,"x":5,"y":1.063},{"k":"11.9164","i":1,"x":5.83,"y":0.973},{"k":"11.9164","i":2,"x":6.76,"y":0.859},{"k":"11.9164","i":3,"x":7.77,"y":0.746},{"k":"11.9164","i":4,"x":8.3,"y":0.67},{"k":"11.9164","i":5,"x":8.77,"y":0.6},
{"k":"14","i":0,"x":5.23,"y":1.8},{"k":"14","i":1,"x":5.6,"y":1.7},{"k":"14","i":2,"x":6.11,"y":1.545},{"k":"14","i":3,"x":6.6,"y":1.44},{"k":"14","i":4,"x":7.13,"y":1.345},{"k":"14","i":5,"x":7.8,"y":1.25},{"k":"14","i":6,"x":8.37,"y":1.168},{"k":"14","i":7,"x":9.2,"y":1.06},{"k":"14","i":8,"x":10.08,"y":0.946},{"k":"14","i":9,"x":10.8,"y":0.845},{"k":"14","i":10,"x":11.47,"y":0.746},{"k":"14","i":11,"x":12.1,"y":0.67},{"k":"14","i":12,"x":12.65,"y":0.6}
],
"labA":[{"label":"8","x":22.1,"y":7.3},{"label":"10","x":26.2,"y":9.8},{"label":"12","x":34.8,"y":9.5},{"label":"14","x":49.2,"y":8.4},{"label":"16","x":61.1,"y":11.35}],
"labB":[{"label":"8","x":21.7,"y":0.83},{"label":"10","x":26.1,"y":1.2},{"label":"11.9164","x":33.8,"y":1.147},{"label":"14","x":49.3,"y":0.95},{"label":"16","x":64.2,"y":1.353}],
"labC":[{"label":"10","x":5.5,"y":0.683},{"label":"11.9164","x":6.76,"y":0.859},{"label":"14","x":8.37,"y":1.168}],
"ptsA":[{"x":20,"y":5,"factor":"Magnesium source = 1.2"},{"x":20,"y":15,"factor":"Magnesium source = 1.2"},{"x":80,"y":5,"factor":"Magnesium source = 1.2"},{"x":80,"y":15,"factor":"Magnesium source = 1.2"},{"x":50,"y":10,"factor":"Magnesium source = 1.2","label":"3"}],
"ptsB":[{"x":20,"y":0.6,"factor":"Phosphor source = 10"},{"x":20,"y":1.8,"factor":"Phosphor source = 10"},{"x":80,"y":0.6,"factor":"Phosphor source = 10"},{"x":80,"y":1.8,"factor":"Phosphor source = 10"},{"x":50,"y":1.2,"factor":"Phosphor source = 10","label":"3"}],
"ptsC":[{"x":5,"y":0.6,"factor":"Carbon source = 50"},{"x":5,"y":1.8,"factor":"Carbon source = 50"},{"x":15,"y":0.6,"factor":"Carbon source = 50"},{"x":15,"y":1.8,"factor":"Carbon source = 50"},{"x":10,"y":1.2,"factor":"Carbon source = 50","label":"3"}],
"capBold":[{"line":1,"text":"Fig. 3. Effect of different concentrations of a carbon source"},{"line":2,"text":"(lactose), a phosphate source, and a magnesium source on"},{"line":3,"text":"xanthan gum production for"}],
"capItal":[{"line":3,"text":"X. campestris."}],
"capRight":[{"line":3,"text":"(A) concentrations"}],
"capReg":[{"line":4,"text":"of the phosphate source and the carbon source (lactose) at a"},{"line":5,"text":"magnesium source concentration of 1.2 g/L; (B) concentrations of"},{"line":6,"text":"the magnesium source and the carbon source (lactose) at a"},{"line":7,"text":"phosphate source concentration of 10 g/L; (C) concentrations of"},{"line":8,"text":"the magnesium source and the phosphate source at carbon source"},{"line":9,"text":"(lactose) concentration of 50 g/L"}]
},
"concat":[
{
"width":450,"height":290,
"layer":[
{"data":{"name":"heatA"},"mark":{"type":"point","shape":"square","filled":true,"size":625,"opacity":1,"strokeWidth":0,"clip":true},
"encoding":{
"x":{"field":"x","type":"quantitative","scale":{"domain":[20,80],"nice":false,"zero":false},"axis":{"values":[20,26,32,38,44,50,56,62,68,74,80],"format":".2f","title":"Carbon source (g/L)","titlePadding":19}},
"y":{"field":"y","type":"quantitative","scale":{"domain":[5,15],"nice":false,"zero":false},"axis":{"values":[5,7,9,11,13,15],"format":".2f","title":"Phosphor source (g/L)","titlePadding":11}},
"color":{"field":"v","type":"quantitative","scale":{"domain":[6.34,8.92,11.5,14.07,16.65],"range":["#0b24f0","#00e4ff","#10e020","#ffff00","#ff1800"],"clamp":true},
"legend":{"title":["Color points by value","of Xanthan"],"orient":"none","legendX":459,"legendY":101,"titleFontSize":11,"values":[6.34,16.65],"labelExpr":"format(datum.value,'.2f')","labelColor":{"expr":"datum.value > 10 ? '#e8333a' : '#3535e6'"}}}
}},
{"data":{"name":"heatA"},"mark":{"type":"point","shape":"square","filled":true,"size":2209,"opacity":0.42,"strokeWidth":0,"clip":true},
"encoding":{"x":{"field":"x","type":"quantitative"},"y":{"field":"y","type":"quantitative"},"color":{"field":"v","type":"quantitative"}}},
{"data":{"name":"contA"},"mark":{"type":"line","color":"#222","strokeWidth":1.2,"clip":true},"encoding":{"x":{"field":"x","type":"quantitative"},"y":{"field":"y","type":"quantitative"},"detail":{"field":"k"},"order":{"field":"i"}}},
{"data":{"name":"labA"},"mark":{"type":"point","shape":"M-1,-0.6H1V0.6H-1Z","size":225,"filled":true,"fill":"white","stroke":"#808080","strokeWidth":1,"opacity":1},"encoding":{"x":{"field":"x","type":"quantitative"},"y":{"field":"y","type":"quantitative"}}},
{"data":{"name":"labA"},"mark":{"type":"text","fontSize":8,"font":"Lato","color":"#444"},"encoding":{"x":{"field":"x","type":"quantitative"},"y":{"field":"y","type":"quantitative"},"text":{"field":"label"}}},
{"data":{"name":"ptsA"},"mark":{"type":"point","filled":true,"color":"#d01c1c","size":45,"opacity":1},"encoding":{"x":{"field":"x","type":"quantitative"},"y":{"field":"y","type":"quantitative"},"shape":{"field":"factor","type":"nominal","scale":{"range":["circle"]},"legend":{"title":"Actual factor:","orient":"none","legendX":459,"legendY":178,"titleFontSize":11,"titlePadding":4,"symbolSize":0,"symbolOpacity":0,"symbolStrokeWidth":0,"labelOffset":-11,"labelFont":"Lato","labelFontSize":11.5,"labelFontWeight":"bold","labelColor":"#333"}}}},
{"data":{"name":"ptsA"},"transform":[{"filter":"isValid(datum.label)"}],"mark":{"type":"text","align":"right","dx":-6,"fontSize":9,"font":"Lato","color":"#7a5a10"},"encoding":{"x":{"field":"x","type":"quantitative"},"y":{"field":"y","type":"quantitative"},"text":{"field":"label"}}},
{"data":{"values":[{"t":"Contour Plot of Xanthan gum for"}]},"mark":{"type":"text","align":"right","baseline":"middle","dy":-12,"font":"Lato","fontSize":14.5,"fontWeight":"bold","color":"#222"},"encoding":{"x":{"datum":58.3,"type":"quantitative"},"y":{"datum":15,"type":"quantitative"},"text":{"field":"t"}}},
{"data":{"values":[{"t":"X. campestris"}]},"mark":{"type":"text","align":"left","baseline":"middle","dx":4,"dy":-12,"font":"Lato","fontSize":14.5,"fontWeight":"bold","fontStyle":"italic","color":"#222"},"encoding":{"x":{"datum":58.3,"type":"quantitative"},"y":{"datum":15,"type":"quantitative"},"text":{"field":"t"}}},
{"data":{"values":[{"t":"(A)"}]},"mark":{"type":"text","align":"left","baseline":"middle","dx":-62,"dy":28,"font":"Liberation Serif","fontSize":20,"color":"#111"},"encoding":{"x":{"datum":20,"type":"quantitative"},"y":{"datum":15,"type":"quantitative"},"text":{"field":"t"}}}
]
},
{
"width":456,"height":300,
"layer":[
{"data":{"name":"heatB"},"mark":{"type":"point","shape":"square","filled":true,"size":676,"opacity":1,"strokeWidth":0,"clip":true},
"encoding":{
"x":{"field":"x","type":"quantitative","scale":{"domain":[20,80],"nice":false,"zero":false},"axis":{"values":[20,26,32,38,44,50,56,62,68,74,80],"format":".2f","title":"Carbon source (g/L)","titleFontSize":15,"titlePadding":25}},
"y":{"field":"y","type":"quantitative","scale":{"domain":[0.6,1.8],"nice":false,"zero":false},"axis":{"values":[0.6,0.9,1.2,1.5,1.8],"format":".2f","title":"Magnesium source (g/L)","titleFontSize":15,"titlePadding":11}},
"color":{"field":"v","type":"quantitative","scale":{"domain":[6.34,8.92,11.5,14.07,16.65],"range":["#0b24f0","#00e4ff","#10e020","#ffff00","#ff1800"],"clamp":true},
"legend":{"title":["Color points by value","of Xanthan"],"orient":"none","legendX":466,"legendY":116,"titleFontSize":12,"titlePadding":13,"gradientLength":34,"values":[6.34,16.65],"labelExpr":"format(datum.value,'.2f')","labelColor":{"expr":"datum.value > 10 ? '#e8333a' : '#3535e6'"}}}
}},
{"data":{"name":"heatB"},"mark":{"type":"point","shape":"square","filled":true,"size":2304,"opacity":0.42,"strokeWidth":0,"clip":true},
"encoding":{"x":{"field":"x","type":"quantitative"},"y":{"field":"y","type":"quantitative"},"color":{"field":"v","type":"quantitative"}}},
{"data":{"name":"contB"},"mark":{"type":"line","color":"#222","strokeWidth":1.2,"clip":true},"encoding":{"x":{"field":"x","type":"quantitative"},"y":{"field":"y","type":"quantitative"},"detail":{"field":"k"},"order":{"field":"i"}}},
{"data":{"name":"labB"},"transform":[{"filter":"length(datum.label) < 3"}],"mark":{"type":"point","shape":"M-1,-0.6H1V0.6H-1Z","size":225,"filled":true,"fill":"white","stroke":"#808080","strokeWidth":1,"opacity":1},"encoding":{"x":{"field":"x","type":"quantitative"},"y":{"field":"y","type":"quantitative"}}},
{"data":{"name":"labB"},"transform":[{"filter":"length(datum.label) > 2"}],"mark":{"type":"point","shape":"M-1,-0.24H1V0.24H-1Z","size":1444,"filled":true,"fill":"white","stroke":"#808080","strokeWidth":1,"opacity":1},"encoding":{"x":{"field":"x","type":"quantitative"},"y":{"field":"y","type":"quantitative"}}},
{"data":{"name":"labB"},"mark":{"type":"text","fontSize":8,"font":"Lato","color":"#444"},"encoding":{"x":{"field":"x","type":"quantitative"},"y":{"field":"y","type":"quantitative"},"text":{"field":"label"}}},
{"data":{"name":"ptsB"},"mark":{"type":"point","filled":true,"color":"#d01c1c","size":45,"opacity":1},"encoding":{"x":{"field":"x","type":"quantitative"},"y":{"field":"y","type":"quantitative"},"shape":{"field":"factor","type":"nominal","scale":{"range":["circle"]},"legend":{"title":"Actual factor:","orient":"none","legendX":466,"legendY":193,"titleFontSize":12,"titlePadding":4,"symbolSize":0,"symbolOpacity":0,"symbolStrokeWidth":0,"labelOffset":-12,"labelFont":"Lato","labelFontSize":12.5,"labelFontWeight":"bold","labelColor":"#333"}}}},
{"data":{"name":"ptsB"},"transform":[{"filter":"isValid(datum.label)"}],"mark":{"type":"text","align":"right","dx":-6,"fontSize":9,"font":"Lato","color":"#7a5a10"},"encoding":{"x":{"field":"x","type":"quantitative"},"y":{"field":"y","type":"quantitative"},"text":{"field":"label"}}},
{"data":{"values":[{"t":"Contour Plot of Xanthan gum for"}]},"mark":{"type":"text","align":"right","baseline":"middle","dy":-11,"font":"Lato","fontSize":15.5,"fontWeight":"bold","color":"#222"},"encoding":{"x":{"datum":59.6,"type":"quantitative"},"y":{"datum":1.8,"type":"quantitative"},"text":{"field":"t"}}},
{"data":{"values":[{"t":"X. campestris"}]},"mark":{"type":"text","align":"left","baseline":"middle","dx":4,"dy":-11,"font":"Lato","fontSize":15.5,"fontWeight":"bold","fontStyle":"italic","color":"#222"},"encoding":{"x":{"datum":59.6,"type":"quantitative"},"y":{"datum":1.8,"type":"quantitative"},"text":{"field":"t"}}},
{"data":{"values":[{"t":"(B)"}]},"mark":{"type":"text","align":"left","baseline":"middle","dx":-64,"dy":35,"font":"Liberation Serif","fontSize":20,"color":"#111"},"encoding":{"x":{"datum":20,"type":"quantitative"},"y":{"datum":1.8,"type":"quantitative"},"text":{"field":"t"}}}
]
},
{
"width":456,"height":301,
"layer":[
{"data":{"name":"heatC"},"mark":{"type":"point","shape":"square","filled":true,"size":676,"opacity":1,"strokeWidth":0,"clip":true},
"encoding":{
"x":{"field":"x","type":"quantitative","scale":{"domain":[5,15],"nice":false,"zero":false},"axis":{"values":[5,7,9,11,13,15],"format":".2f","title":"Phosphor source (g/L)","titleFontSize":15,"titlePadding":3}},
"y":{"field":"y","type":"quantitative","scale":{"domain":[0.6,1.8],"nice":false,"zero":false},"axis":{"values":[0.6,0.9,1.2,1.5,1.8],"format":".2f","title":"Magnesium source (g/L)","titleFontSize":14.5,"titlePadding":12}},
"color":{"field":"v","type":"quantitative","scale":{"domain":[6.34,8.92,11.5,14.07,16.65],"range":["#0b24f0","#00e4ff","#10e020","#ffff00","#ff1800"],"clamp":true},
"legend":{"title":["Color points by value","of Xanthan"],"orient":"none","legendX":466,"legendY":116,"titleFontSize":12.5,"titlePadding":10,"values":[6.34,16.65],"labelExpr":"format(datum.value,'.2f')","labelColor":{"expr":"datum.value > 10 ? '#e8333a' : '#3535e6'"}}}
}},
{"data":{"name":"heatC"},"mark":{"type":"point","shape":"square","filled":true,"size":2304,"opacity":0.42,"strokeWidth":0,"clip":true},
"encoding":{"x":{"field":"x","type":"quantitative"},"y":{"field":"y","type":"quantitative"},"color":{"field":"v","type":"quantitative"}}},
{"data":{"name":"contC"},"mark":{"type":"line","color":"#222","strokeWidth":1.2,"clip":true},"encoding":{"x":{"field":"x","type":"quantitative"},"y":{"field":"y","type":"quantitative"},"detail":{"field":"k"},"order":{"field":"i"}}},
{"data":{"name":"labC"},"transform":[{"filter":"length(datum.label) < 3"}],"mark":{"type":"point","shape":"M-1,-0.6H1V0.6H-1Z","size":225,"filled":true,"fill":"white","stroke":"#808080","strokeWidth":1,"opacity":1},"encoding":{"x":{"field":"x","type":"quantitative"},"y":{"field":"y","type":"quantitative"}}},
{"data":{"name":"labC"},"transform":[{"filter":"length(datum.label) > 2"}],"mark":{"type":"point","shape":"M-1,-0.24H1V0.24H-1Z","size":1444,"filled":true,"fill":"white","stroke":"#808080","strokeWidth":1,"opacity":1},"encoding":{"x":{"field":"x","type":"quantitative"},"y":{"field":"y","type":"quantitative"}}},
{"data":{"name":"labC"},"mark":{"type":"text","fontSize":8,"font":"Lato","color":"#444"},"encoding":{"x":{"field":"x","type":"quantitative"},"y":{"field":"y","type":"quantitative"},"text":{"field":"label"}}},
{"data":{"name":"ptsC"},"mark":{"type":"point","filled":true,"color":"#d01c1c","size":45,"opacity":1},"encoding":{"x":{"field":"x","type":"quantitative"},"y":{"field":"y","type":"quantitative"},"shape":{"field":"factor","type":"nominal","scale":{"range":["circle"]},"legend":{"title":"Actual factor:","orient":"none","legendX":466,"legendY":196,"titleFontSize":12.5,"titlePadding":5,"symbolSize":0,"symbolOpacity":0,"symbolStrokeWidth":0,"labelOffset":-12,"labelFont":"Lato","labelFontSize":12,"labelFontWeight":"bold","labelColor":"#333"}}}},
{"data":{"name":"ptsC"},"transform":[{"filter":"isValid(datum.label)"}],"mark":{"type":"text","align":"right","dx":-6,"fontSize":9,"font":"Lato","color":"#7a5a10"},"encoding":{"x":{"field":"x","type":"quantitative"},"y":{"field":"y","type":"quantitative"},"text":{"field":"label"}}},
{"data":{"values":[{"t":"Contour Plot of Xanthan gum for"}]},"mark":{"type":"text","align":"right","baseline":"middle","dy":-13,"font":"Lato","fontSize":15.5,"fontWeight":"bold","color":"#222"},"encoding":{"x":{"datum":11.2,"type":"quantitative"},"y":{"datum":1.8,"type":"quantitative"},"text":{"field":"t"}}},
{"data":{"values":[{"t":"X. campestris"}]},"mark":{"type":"text","align":"left","baseline":"middle","dx":4,"dy":-13,"font":"Lato","fontSize":15.5,"fontWeight":"bold","fontStyle":"italic","color":"#222"},"encoding":{"x":{"datum":11.2,"type":"quantitative"},"y":{"datum":1.8,"type":"quantitative"},"text":{"field":"t"}}},
{"data":{"values":[{"t":"(C)"}]},"mark":{"type":"text","align":"left","baseline":"middle","dx":-62,"dy":32,"font":"Liberation Serif","fontSize":20,"color":"#111"},"encoding":{"x":{"datum":5,"type":"quantitative"},"y":{"datum":1.8,"type":"quantitative"},"text":{"field":"t"}}}
]
},
{
"width":578,"height":301,
"view":{"stroke":null},
"layer":[
{"data":{"name":"capBold"},"mark":{"type":"text","align":"left","baseline":"middle","font":"Liberation Serif","fontSize":23,"fontWeight":"bold","color":"#000"},"encoding":{"x":{"datum":0,"type":"quantitative","scale":{"domain":[0.08,1],"nice":false,"zero":false},"axis":null},"y":{"field":"line","type":"quantitative","scale":{"domain":[-3.56,8.48],"reverse":true,"nice":false,"zero":false},"axis":null},"text":{"field":"text"}}},
{"data":{"name":"capItal"},"mark":{"type":"text","align":"left","baseline":"middle","font":"Liberation Serif","fontSize":23,"fontWeight":"bold","fontStyle":"italic","color":"#000"},"encoding":{"x":{"datum":0.47,"type":"quantitative"},"y":{"field":"line","type":"quantitative"},"text":{"field":"text"}}},
{"data":{"name":"capRight"},"mark":{"type":"text","align":"right","baseline":"middle","font":"Liberation Serif","fontSize":23,"color":"#000"},"encoding":{"x":{"datum":1,"type":"quantitative"},"y":{"field":"line","type":"quantitative"},"text":{"field":"text"}}},
{"data":{"name":"capReg"},"mark":{"type":"text","align":"left","baseline":"middle","font":"Liberation Serif","fontSize":23,"color":"#000"},"encoding":{"x":{"datum":0,"type":"quantitative"},"y":{"field":"line","type":"quantitative"},"text":{"field":"text"}}}
]
}
]
}
